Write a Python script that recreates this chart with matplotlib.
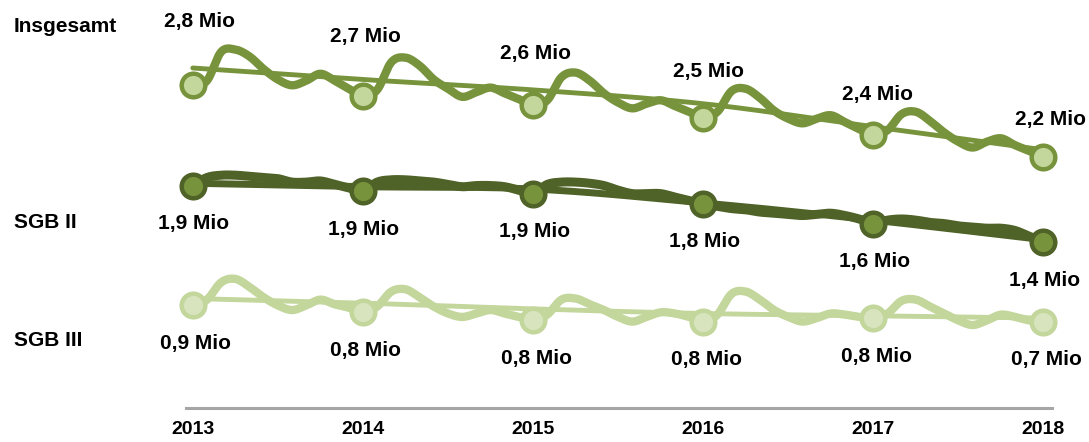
import numpy as np
import matplotlib.pyplot as plt

plt.rcParams['font.family'] = ['Liberation Sans', 'DejaVu Sans']

# Jahre und Monatswerte (Jan 2013 ... Jan 2018), in Mio
years = [2013, 2014, 2015, 2016, 2017, 2018]
months = 2013 + np.arange(61) / 12

insgesamt = [
    2.80, 2.84, 3.09, 3.11, 3.05, 2.94, 2.85, 2.80, 2.84, 2.90, 2.84, 2.77,
    2.71, 2.76, 3.00, 3.04, 2.97, 2.85, 2.77, 2.70, 2.74, 2.78, 2.73, 2.68,
    2.63, 2.67, 2.87, 2.91, 2.84, 2.73, 2.65, 2.60, 2.64, 2.67, 2.62, 2.57,
    2.52, 2.57, 2.75, 2.77, 2.69, 2.58, 2.51, 2.47, 2.51, 2.54, 2.48, 2.42,
    2.37, 2.41, 2.55, 2.57, 2.49, 2.39, 2.31, 2.26, 2.31, 2.34, 2.28, 2.23,
    2.18,
]
sgb2 = [
    1.93, 2.00, 2.02, 2.02, 2.01, 2.00, 1.99, 1.96, 1.96, 1.97, 1.94, 1.91,
    1.88, 1.96, 1.98, 1.98, 1.97, 1.96, 1.94, 1.92, 1.93, 1.93, 1.92, 1.89,
    1.86, 1.94, 1.96, 1.96, 1.95, 1.93, 1.89, 1.86, 1.86, 1.86, 1.83, 1.80,
    1.77, 1.75, 1.73, 1.72, 1.70, 1.69, 1.68, 1.67, 1.68, 1.69, 1.67, 1.64,
    1.60, 1.63, 1.64, 1.63, 1.61, 1.60, 1.58, 1.57, 1.56, 1.56, 1.54, 1.49,
    1.44,
]
sgb3 = [
    0.89, 0.94, 1.09, 1.12, 1.05, 0.96, 0.89, 0.85, 0.89, 0.94, 0.90, 0.87,
    0.83, 0.88, 1.01, 1.03, 0.96, 0.88, 0.82, 0.79, 0.82, 0.85, 0.82, 0.79,
    0.76, 0.81, 0.94, 0.95, 0.90, 0.85, 0.79, 0.75, 0.79, 0.83, 0.82, 0.79,
    0.75, 0.81, 0.99, 1.01, 0.94, 0.85, 0.79, 0.75, 0.78, 0.82, 0.81, 0.79,
    0.78, 0.82, 0.93, 0.94, 0.88, 0.82, 0.76, 0.72, 0.76, 0.81, 0.79, 0.76,
    0.75,
]

# Trendlinien (Jahreswerte)
insgesamt_trend = [2.95, 2.85, 2.76, 2.64, 2.44, 2.24]
sgb2_trend = [1.95, 1.92, 1.90, 1.78, 1.63, 1.46]
sgb3_trend = [0.95, 0.91, 0.86, 0.82, 0.80, 0.78]

insgesamt_labels = ['2,8 Mio', '2,7 Mio', '2,6 Mio', '2,5 Mio', '2,4 Mio', '2,2 Mio']
sgb2_labels = ['1,9 Mio', '1,9 Mio', '1,9 Mio', '1,8 Mio', '1,6 Mio', '1,4 Mio']
sgb3_labels = ['0,9 Mio', '0,8 Mio', '0,8 Mio', '0,8 Mio', '0,8 Mio', '0,7 Mio']


def smooth(x, y, n=10):
    # Catmull-Rom, wie die geglaetteten Linien in Excel
    x = np.asarray(x, float)
    y = np.asarray(y, float)
    px = np.concatenate([[2 * x[0] - x[1]], x, [2 * x[-1] - x[-2]]])
    py = np.concatenate([[2 * y[0] - y[1]], y, [2 * y[-1] - y[-2]]])
    t = np.linspace(0, 1, n, endpoint=False)
    xs, ys = [], []
    for i in range(1, len(px) - 2):
        for p, out in ((px, xs), (py, ys)):
            p0, p1, p2, p3 = p[i - 1], p[i], p[i + 1], p[i + 2]
            out.extend(0.5 * (2 * p1 + (-p0 + p2) * t
                              + (2 * p0 - 5 * p1 + 4 * p2 - p3) * t ** 2
                              + (-p0 + 3 * p1 - 3 * p2 + p3) * t ** 3))
    xs.append(x[-1])
    ys.append(y[-1])
    return xs, ys


fig = plt.figure(figsize=(10.89, 4.42), dpi=100)
ax = fig.add_axes([186 / 1089, 34 / 442, 866 / 1089, 408 / 442])
ax.set_xlim(2012.96, 2018.05)
ax.set_ylim(0, 3.54)

series = [
    (insgesamt, insgesamt_trend, '#77933C', '#C3D69B', 6.0, 3.5),
    (sgb2, sgb2_trend, '#4F6228', '#77933C', 6.5, 5.0),
    (sgb3, sgb3_trend, '#C3D69B', '#D7E4BD', 6.0, 3.5),
]
for vals, trend, col, fill, lw, tlw in series:
    ax.plot(*smooth(years, trend, 30), color=col, lw=tlw, solid_capstyle='round', clip_on=False)
    ax.plot(*smooth(months, vals), color=col, lw=lw, solid_capstyle='round',
            solid_joinstyle='round', clip_on=False)
    yearly = vals[::12]
    ax.plot(years, yearly, ls='none', marker='o', ms=17, mfc=fill, mec=col, mew=3.2,
            clip_on=False, zorder=5)

# Wertebeschriftungen
ins_offsets = [(7, 64), (2, 59), (2, 51), (5, 46), (4, 40), (7, 37)]
for yr, v, lab, off in zip(years, insgesamt[::12], insgesamt_labels, ins_offsets):
    ax.annotate(lab, (yr, v), xytext=off, textcoords='offset pixels',
                ha='center', va='center', fontsize=15, fontweight='bold')
for yr, v, lab in zip(years, sgb2[::12], sgb2_labels):
    ax.annotate(lab, (yr, v), xytext=(1, -38), textcoords='offset pixels',
                ha='center', va='center', fontsize=15, fontweight='bold')
for yr, v, lab in zip(years, sgb3[::12], sgb3_labels):
    ax.annotate(lab, (yr, v), xytext=(3, -38), textcoords='offset pixels',
                ha='center', va='center', fontsize=15, fontweight='bold')

# Reihennamen links
for name, ypx in [('Insgesamt', 26), ('SGB II', 222), ('SGB III', 340)]:
    fig.text(14 / 1089, 1 - ypx / 442, name, ha='left', va='center',
             fontsize=15, fontweight='bold')

for s in ['top', 'right', 'left']:
    ax.spines[s].set_visible(False)
ax.spines['bottom'].set_color('#A6A6A6')
ax.spines['bottom'].set_linewidth(2.2)
ax.set_yticks([])
ax.set_xticks(years)
ax.set_xticklabels([str(y) for y in years], fontsize=14, fontweight='bold')
ax.tick_params(axis='x', length=0, pad=9)

fig.savefig('out.png', dpi=100)
